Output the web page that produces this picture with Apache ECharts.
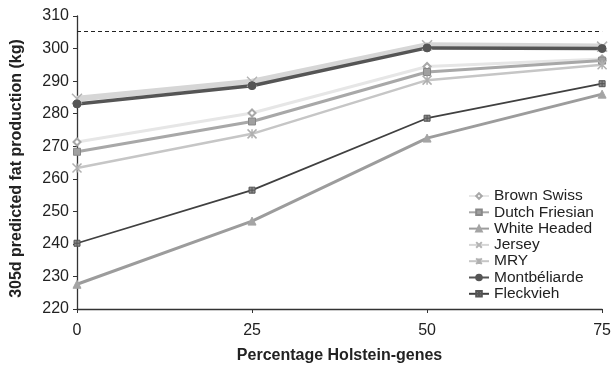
<!DOCTYPE html>
<html><head><meta charset="utf-8">
<script src="https://cdn.jsdelivr.net/npm/echarts@6/dist/echarts.min.js"></script>
<style>html,body{margin:0;padding:0;background:#fff}#c{width:614px;height:371px}</style>
</head><body><div id="c"></div>
<script>
const categories = [0, 25, 50, 75];
const brownSwiss   = [271.3, 280.2, 294.5, 296.8];
const dutchFriesian= [268.3, 277.6, 292.8, 296.3];
const whiteHeaded  = [227.6, 247.0, 272.5, 286.0];
const jersey       = [284.6, 289.8, 301.0, 300.6];
const mry          = [263.3, 273.8, 290.3, 295.0];
const montbeliarde = [283.0, 288.6, 300.2, 300.0];
const fleckvieh    = [240.2, 256.5, 278.6, 289.2];
const refLine = 305.4;
const yTicks = [220, 310, 10];

const pX = 'path://M0,0L10,10M10,0L0,10';
const pAst = 'path://M0,0L10,10M10,0L0,10M5,0L5,10';
const pSqX = 'path://M0,0L10,0L10,10L0,10ZM5,0L5,10M0,5L10,5';

const FONT = 'Liberation Sans';

function ser(name, data, color, lw, symbol, size, extra) {
  return Object.assign({
    name, type: 'line', data: data.map((v, i) => [categories[i], v]),
    symbol, symbolSize: size,
    lineStyle: { color, width: lw },
    itemStyle: { color, borderColor: color, borderWidth: 1 },
    emphasis: { disabled: true }
  }, extra || {});
}

const chart = echarts.init(document.getElementById('c'));
chart.setOption({
  animation: false,
  grid: { left: 77, right: 9, top: 16, bottom: 62 },
  xAxis: {
    type: 'value', min: 0, max: 75, interval: 25,
    name: 'Percentage Holstein-genes', nameLocation: 'middle', nameGap: 39,
    nameTextStyle: { fontFamily: FONT, fontWeight: 'bold', fontSize: 16, color: '#222' },
    axisLine: { lineStyle: { color: '#333', width: 1.3 } },
    axisTick: { length: 4, lineStyle: { color: '#333' } },
    axisLabel: { fontFamily: FONT, fontSize: 16, color: '#222', margin: 14 },
    splitLine: { show: false }
  },
  yAxis: {
    type: 'value', min: yTicks[0], max: yTicks[1], interval: yTicks[2],
    name: '305d predicted fat production (kg)', nameLocation: 'middle', nameGap: 52,
    nameTextStyle: { fontFamily: FONT, fontWeight: 'bold', fontSize: 16, color: '#222', padding: [0, 12, 0, 0] },
    axisLine: { show: true, lineStyle: { color: '#333', width: 1.3 } },
    axisTick: { show: true, length: 4, lineStyle: { color: '#333' } },
    axisLabel: { fontFamily: FONT, fontSize: 16, color: '#222', margin: 8 },
    splitLine: { show: false }
  },
  legend: {
    orient: 'vertical', left: 463, top: 183, itemGap: 0.3, itemWidth: 20, itemHeight: 7,
    textStyle: { fontFamily: FONT, fontSize: 15.5, color: '#222', padding: [0, 0, 0, 0] },
    data: ['Brown Swiss', 'Dutch Friesian', 'White Headed', 'Jersey', 'MRY', 'Montbéliarde', 'Fleckvieh']
  },
  series: [
    ser('Jersey', jersey, '#d6d6d6', 6, pX, 10, { itemStyle: { color: 'none', borderColor: '#b4b4b4', borderWidth: 1.5 } }),
    ser('Brown Swiss', brownSwiss, '#e6e6e6', 3, 'emptyDiamond', 7, { itemStyle: { color: '#a8a8a8', borderWidth: 1 } }),
    ser('Dutch Friesian', dutchFriesian, '#a8a8a8', 3, 'rect', 7, { itemStyle: { color: '#a0a0a0', borderColor: '#888', borderWidth: 1 } }),
    ser('MRY', mry, '#c6c6c6', 2.5, pAst, 9, { itemStyle: { color: 'none', borderColor: '#b0b0b0', borderWidth: 1.5 } }),
    ser('White Headed', whiteHeaded, '#9c9c9c', 3, 'triangle', 8, { itemStyle: { color: '#a4a4a4', borderColor: '#a4a4a4', borderWidth: 1 } }),
    ser('Fleckvieh', fleckvieh, '#404040', 1.8, pSqX, 6, { itemStyle: { color: '#8a8a8a', borderColor: '#555', borderWidth: 1 } }),
    ser('Montbéliarde', montbeliarde, '#555555', 3.5, 'circle', 8, {
      itemStyle: { color: '#555', borderColor: '#555', borderWidth: 1 },
      markLine: { silent: true, symbol: 'none', label: { show: false },
        lineStyle: { color: '#222', type: [4, 3], width: 1 },
        data: [{ yAxis: refLine }] }
    })
  ]
});
</script></body></html>
